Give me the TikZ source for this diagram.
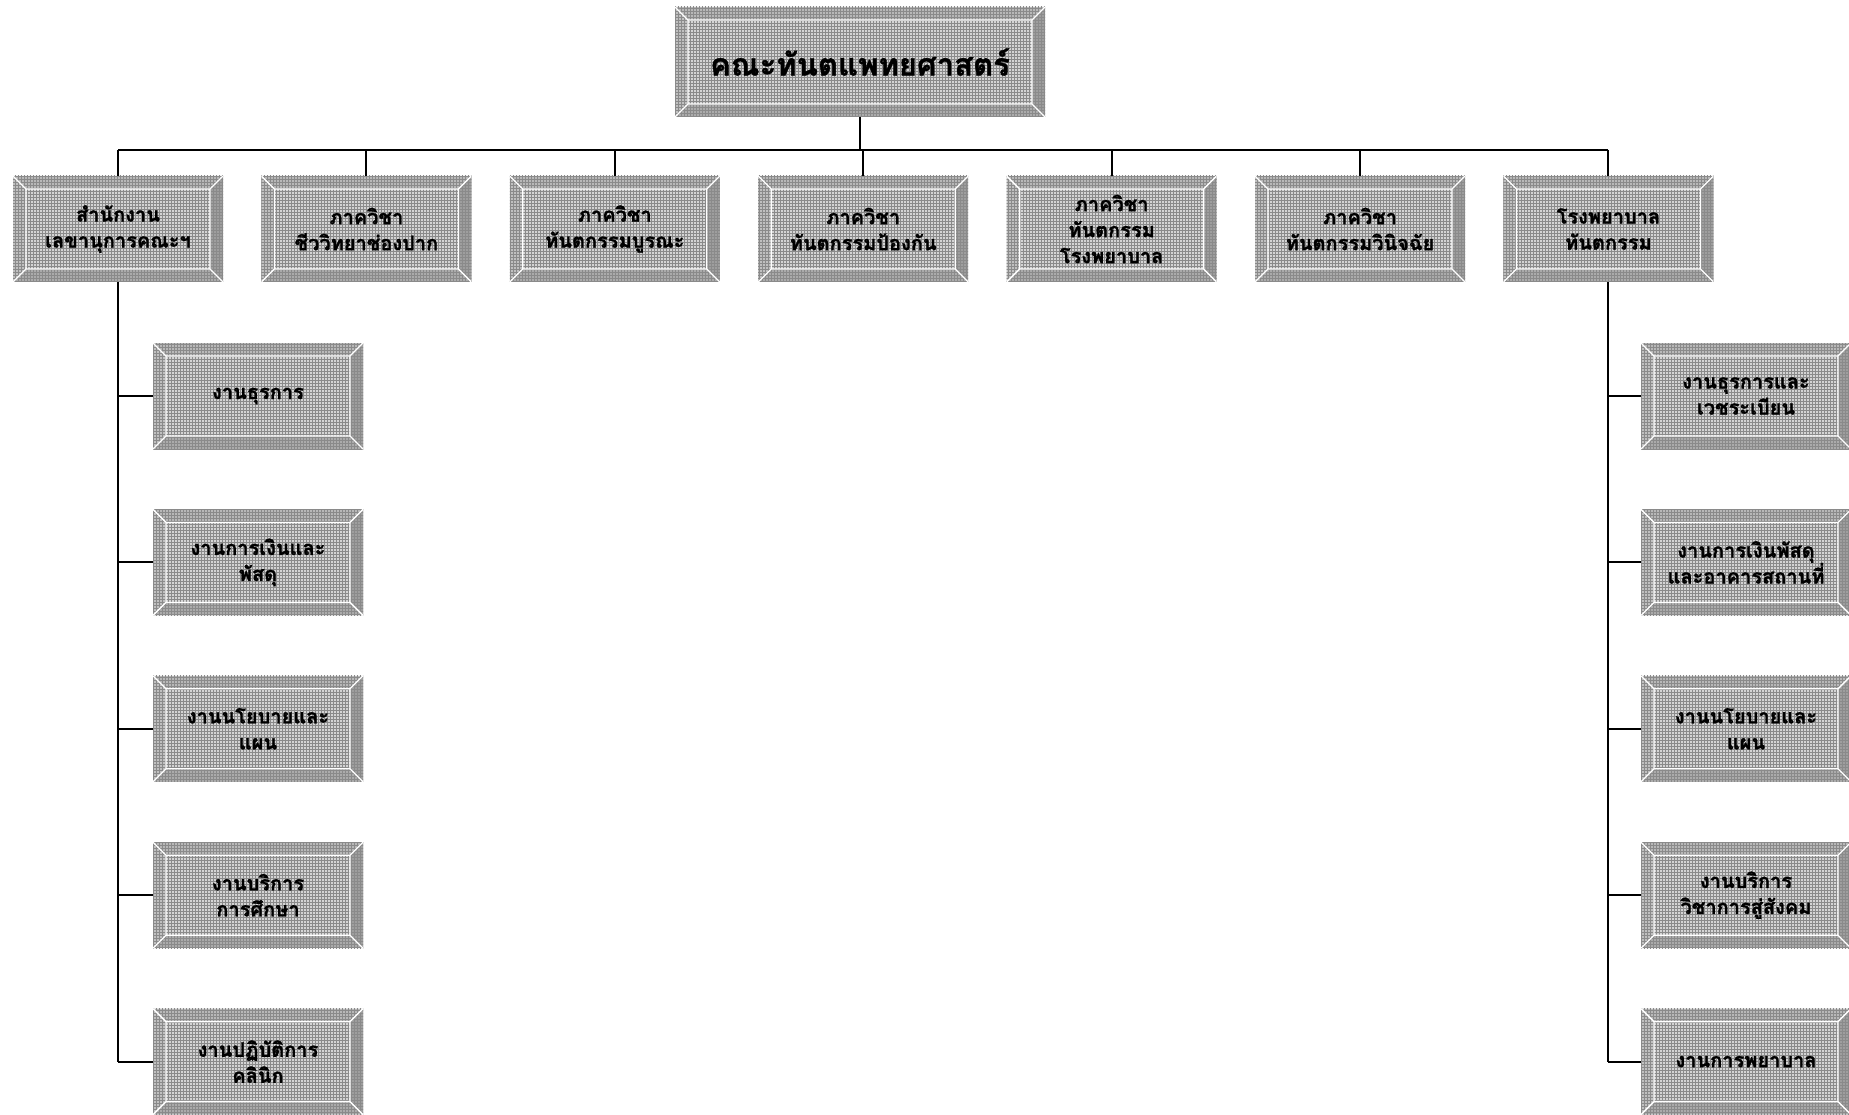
\documentclass[tikz,border=0pt]{standalone}
\usepackage{fontspec}
\newfontfamily\thaifont[Script=Thai,BoldFont={Loma Bold},BoldFeatures={FakeBold=1.2}]{Loma}
\usetikzlibrary{positioning,patterns}
\definecolor{bevface}{HTML}{D4D4D4}
\definecolor{bevtop}{HTML}{B8B8B8}
\definecolor{bevleft}{HTML}{C0C0C0}
\definecolor{bevright}{HTML}{9E9E9E}
\definecolor{bevbot}{HTML}{ABABAB}
\definecolor{bevgrid}{HTML}{8A8A8A}
\newcommand\bev{13pt}
\newcommand\drawbevel{%
  \coordinate (pa) at (path picture bounding box.south west);
  \coordinate (pc) at (path picture bounding box.north east);
  \coordinate (pb) at (pa -| pc);
  \coordinate (pd) at (pa |- pc);
  \coordinate (qa) at ([shift={(\bev,\bev)}]pa);
  \coordinate (qc) at ([shift={(-\bev,-\bev)}]pc);
  \coordinate (qb) at (qa -| qc);
  \coordinate (qd) at (qa |- qc);
  \fill[bevtop] (pd) -- (pc) -- (qc) -- (qd) -- cycle;
  \fill[bevright] (pc) -- (pb) -- (qb) -- (qc) -- cycle;
  \fill[bevbot] (pb) -- (pa) -- (qa) -- (qb) -- cycle;
  \fill[bevleft] (pa) -- (pd) -- (qd) -- (qa) -- cycle;
  \fill[bevface] (qa) rectangle (qc);
  \fill[pattern=grid,pattern color=bevgrid] (pa) rectangle (pc);
  \draw[white,line width=1.3pt] (qa) rectangle (qc) (pa)--(qa) (pb)--(qb) (pc)--(qc) (pd)--(qd);
}
\tikzset{
  orgbox/.style={minimum width=210pt,minimum height=106pt,inner sep=0pt,align=center,
    font=\thaifont\bfseries\fontsize{20}{26}\selectfont,path picture={\drawbevel}},
  headbox/.style={orgbox,minimum width=370pt,minimum height=110pt,
    font=\thaifont\bfseries\fontsize{31}{36}\selectfont},
  link/.style={line width=2pt}
}
\begin{document}
\begin{tikzpicture}[x=1pt,y=-1pt]
	\useasboundingbox (0,0) rectangle (1849,1115);
	\node[headbox] (top) at (860,62) {คณะทันตแพทยศาสตร์};
	% second level
	\node[orgbox] (b1) at (118,229) {สำนักงาน\\เลขานุการคณะฯ};
	\node[orgbox,right=38pt of b1] (b2) {ภาควิชา\\ชีววิทยาช่องปาก};
	\node[orgbox,right=38pt of b2] (b3) {ภาควิชา\\ทันตกรรมบูรณะ};
	\node[orgbox,right=38pt of b3] (b4) {ภาควิชา\\ทันตกรรมป้องกัน};
	\node[orgbox,right=38pt of b4] (b5) {ภาควิชา\\ทันตกรรม\\โรงพยาบาล};
	\node[orgbox,right=38pt of b5] (b6) {ภาควิชา\\ทันตกรรมวินิจฉัย};
	\node[orgbox,right=38pt of b6] (b7) {โรงพยาบาล\\ทันตกรรม};
	\coordinate (bus) at (860,150);
	\draw[link] (top.south) -- (top.south |- bus);
	\draw[link] (b1.north |- bus) -- (b7.north |- bus);
	\foreach \b in {b1,b2,b3,b4,b5,b6,b7}
	\draw[link] (\b.north |- bus) -- (\b.north);
	% left units
	\node[orgbox] (l1) at (258,396) {งานธุรการ};
	\node[orgbox,below=60pt of l1] (l2) {งานการเงินและ\\พัสดุ};
	\node[orgbox,below=60pt of l2] (l3) {งานนโยบายและ\\แผน};
	\node[orgbox,below=60pt of l3] (l4) {งานบริการ\\การศึกษา};
	\node[orgbox,below=60pt of l4] (l5) {งานปฏิบัติการ\\คลินิก};
	% right units
	\node[orgbox] (r1) at (1746,396) {งานธุรการและ\\เวชระเบียน};
	\node[orgbox,below=60pt of r1] (r2) {งานการเงินพัสดุ\\และอาคารสถานที่};
	\node[orgbox,below=60pt of r2] (r3) {งานนโยบายและ\\แผน};
	\node[orgbox,below=60pt of r3] (r4) {งานบริการ\\วิชาการสู่สังคม};
	\node[orgbox,below=60pt of r4] (r5) {งานการพยาบาล};
	\draw[link] (b1.south) -- (b1.south |- l5.west);
	\draw[link] (b7.south) -- (b7.south |- r5.west);
	\foreach \i in {1,...,5}{
	\draw[link] (b1.south |- l\i.west) -- (l\i.west);
	\draw[link] (b7.south |- r\i.west) -- (r\i.west);
	}
\end{tikzpicture}
\end{document}
